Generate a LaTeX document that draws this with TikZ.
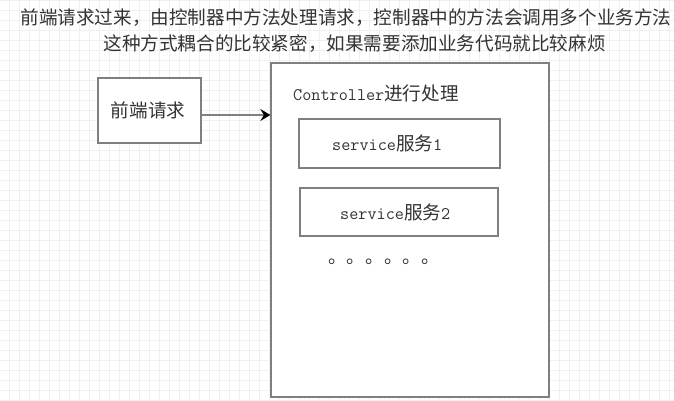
\documentclass[tikz,border=0pt]{standalone}
\usepackage{fontspec}
\newfontfamily\cjkfnt{Noto Sans CJK SC}
\newcommand\mlat[1]{{\fontsize{17.7}{22}\selectfont\ttfamily #1}}
\usetikzlibrary{arrows.meta}
\definecolor{boxgray}{HTML}{7F7F7F}
\definecolor{gridc}{HTML}{F0F0F0}
\definecolor{txt}{HTML}{333333}
\begin{document}
\begin{tikzpicture}[x=1pt,y=-1pt,
  box/.style={draw=boxgray, line width=1.3pt, fill=white, inner sep=0pt},
  lbl/.style={inner sep=0pt, text=txt, font=\fontsize{18.6}{22}\selectfont\cjkfnt, text height=16.4pt, text depth=2.2pt},
  arr/.style={draw=boxgray, line width=1.3pt, -{Stealth[length=10pt,width=12pt,inset=3.5pt,color=black]}},
  gridline/.style={draw=gridc, line width=1pt}]
\useasboundingbox (0,0) rectangle (674,400);
\fill[white] (0,0) rectangle (674,400);
% grid
\foreach \gx in {9,19,...,669} {\draw[gridline] (\gx,0) -- (\gx,400);}
\foreach \gy in {0,10,...,400} {\draw[gridline] (0,\gy) -- (674,\gy);}
% title
\node[lbl] (t1) at (346,17) {前端请求过来，由控制器中方法处理请求，控制器中的方法会调用多个业务方法};
\node[lbl] (t2) at (354.5,43) {这种方式耦合的比较紧密，如果需要添加业务代码就比较麻烦};
% front-end box
\node[box, minimum width=103pt, minimum height=65pt] (fb) at (149.5,110.5) {};
\node[lbl] (fbt) at (148,110) {前端请求};
% controller box
\node[box, minimum width=278pt, minimum height=334pt] (ctrl) at (410,230) {};
\node[lbl, anchor=west] (ctrlt) at (293,93) {\mlat{Controller}进行处理};
% services
\node[box, minimum width=201pt, minimum height=49pt] (s1) at (399.5,143.5) {};
\node[lbl, anchor=west] (s1t) at (332,143.5) {\mlat{service}服务\mlat{1}};
\node[box, minimum width=198pt, minimum height=48pt] (s2) at (399,212) {};
\node[lbl, anchor=west] (s2t) at (340,212) {\mlat{service}服务\mlat{2}};
\node[lbl, anchor=base west] (dots) at (328,263) {。。。。。。};
% arrow
\coordinate (ay) at (0,115);
\draw[arr] (fb.east |- ay) -- (ctrl.west |- ay);
\end{tikzpicture}
\end{document}
